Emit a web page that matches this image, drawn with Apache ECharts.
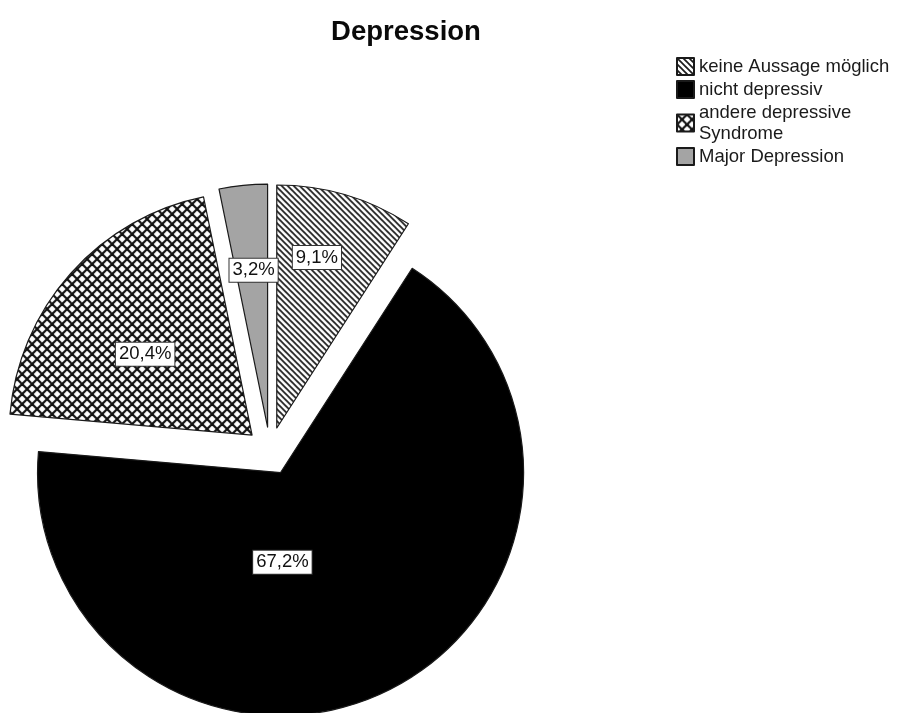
<!DOCTYPE html>
<html>
<head>
<meta charset="utf-8">
<script src="https://cdn.jsdelivr.net/npm/echarts@6/dist/echarts.min.js"></script>
<style>
  html, body { margin: 0; padding: 0; background: #ffffff; }
  #chart { width: 897px; height: 713px; }
</style>
</head>
<body>
<div id="chart"></div>
<script>
// Depression categories and their shares (percent)
const categories = ['keine Aussage möglich', 'nicht depressiv', 'andere depressive Syndrome', 'Major Depression'];
const percentages = [9.1, 67.2, 20.4, 3.2];
const chartTitle = 'Depression';

// Fill patterns drawn on small tiles
function hatchTile(size, lineWidth, color, dirs) {
  const c = document.createElement('canvas');
  c.width = size; c.height = size;
  const g = c.getContext('2d');
  g.fillStyle = '#ffffff';
  g.fillRect(0, 0, size, size);
  g.strokeStyle = color;
  g.lineWidth = lineWidth;
  g.lineCap = 'square';
  dirs.forEach(function (d) {
    for (let k = -1; k <= 1; k++) {
      g.beginPath();
      if (d === 'back') {          // "\" lines
        g.moveTo(k * size, 0);
        g.lineTo(k * size + size, size);
      } else {                     // "/" lines
        g.moveTo(k * size, size);
        g.lineTo(k * size + size, 0);
      }
      g.stroke();
    }
  });
  return { image: c, repeat: 'repeat' };
}

const fills = [
  hatchTile(6, 1.7, '#1c1c1c', ['back']),
  '#000000',
  hatchTile(10, 2.2, '#111111', ['back', 'fwd']),
  '#a4a4a4'
];

// Label nudges relative to the default inside position
const labelShifts = [[5, -51], [-53, -22], [-14, 2], [-1.5, -33]];

const fmtPct = function (v) { return v.toFixed(1).replace('.', ',') + '%'; };

const sliceBorder = { borderColor: '#1a1a1a', borderWidth: 1.2 };

const chart = echarts.init(document.getElementById('chart'), null, { renderer: 'canvas' });

chart.setOption({
  animation: false,
  backgroundColor: '#ffffff',
  title: {
    text: chartTitle,
    left: 401,
    textAlign: 'center',
    top: 13,
    textStyle: {
      fontFamily: 'Liberation Sans, Arial, sans-serif',
      fontSize: 27.5,
      fontWeight: 'bold',
      color: '#0a0a0a'
    }
  },
  legend: {
    orient: 'vertical',
    left: 676,
    top: 56,
    padding: 0,
    itemGap: 2,
    itemWidth: 17,
    itemHeight: 17,
    icon: 'rect',
    selectedMode: false,
    data: categories,
    formatter: function (name) { return name.replace('depressive Syndrome', 'depressive\nSyndrome'); },
    textStyle: {
      fontFamily: 'Liberation Sans, Arial, sans-serif',
      fontSize: 18.5,
      lineHeight: 21,
      color: '#1a1a1a'
    }
  },
  series: [{
    type: 'pie',
    center: [270, 451],
    radius: 243,
    startAngle: 90,
    clockwise: true,
    selectedMode: 'multiple',
    selectedOffset: 24,
    avoidLabelOverlap: false,
    emphasis: { disabled: true },
    labelLine: { show: false },
    itemStyle: sliceBorder,
    select: { itemStyle: sliceBorder },
    label: {
      show: true,
      position: 'inside',
      formatter: function (p) { return fmtPct(p.value); },
      fontFamily: 'Liberation Sans, Arial, sans-serif',
      fontSize: 18.5,
      lineHeight: 20,
      color: '#111111',
      backgroundColor: '#ffffff',
      borderColor: '#333333',
      borderWidth: 1,
      padding: [2, 3, 1, 3]
    },
    labelLayout: function (params) {
      const s = labelShifts[params.dataIndex];
      return { dx: s[0], dy: s[1] };
    },
    data: categories.map(function (name, i) {
      return {
        name: name,
        value: percentages[i],
        selected: true,
        itemStyle: { color: fills[i] }
      };
    })
  }]
});
</script>
</body>
</html>
